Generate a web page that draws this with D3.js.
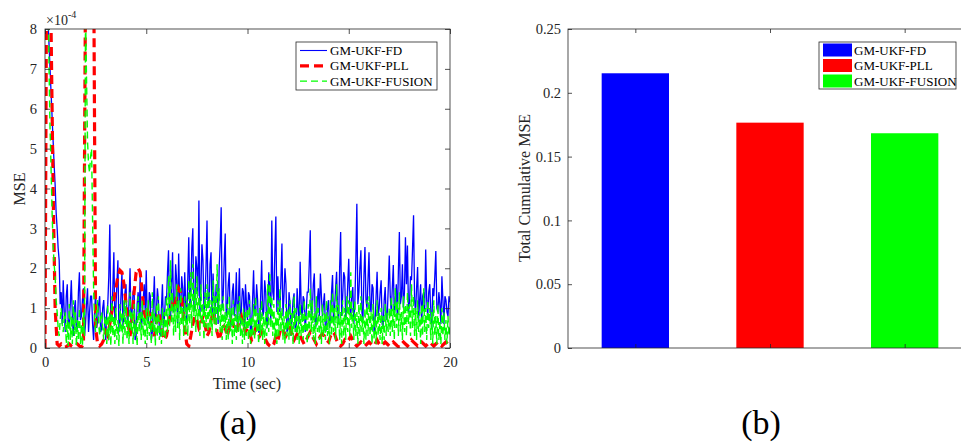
<!DOCTYPE html>
<html lang="en">
<head>
  <meta charset="UTF-8">
  <script src="https://d3js.org/d3.v7.min.js"></script>
  <style>
    body { margin: 0; background: #fff; }
    text { font-family: "Liberation Serif", "Times New Roman", serif; fill: #262626; }
    .axis path { display: none; }
    .axis line { stroke: #262626; stroke-width: 0.8px; }
    .axis text { font-size: 14.5px; }
    .frame { fill: none; stroke: #262626; stroke-width: 0.8px; }
    .legend text { font-size: 13px; fill: #000; }
  </style>
  <title>MSE comparison</title>
</head>
<body>
  <svg id="chart" width="961" height="443"></svg>
  <script>
    // sample steps of the MSE curves (sec); values are in units of 1e-4
    var dtFast = 0.05;   // FD and FUSION
    var dtSlow = 0.1;    // PLL

    var mseFD = [
      10, 11, 9, 8.2, 7.6, 7.0, 6.4, 5.8, 5.2, 4.6, 4.1, 3.4, 3.0, 2.5, 2.2, 1.1, 1.4, 0.6, 1.7, 0.9,
      0.4, 1.3, 1.6, 0.5, 0.6, 1.1, 1.7, 0.8, 0.3, 1.0, 1.2, 0.4, 0.5, 1.4, 1.9, 0.7, 0.8, 1.2, 1.5, 0.3,
      0.6, 1.1, 1.5, 0.4, 0.9, 1.3, 1.3, 0.6, 0.2, 0.9, 1.4, 0.5, 0.7, 1.1, 1.3, 0.4, 0.5, 1.0, 1.2, 0.6,
      0.2, 0.9, 1.1, 1.8, 3.1, 0.7, 0.8, 1.5, 2.4, 0.6, 1.0, 1.6, 2.2, 0.4, 0.6, 1.3, 1.9, 0.5, 0.9, 1.4,
      1.6, 0.8, 0.5, 1.2, 2.0, 0.6, 0.9, 1.4, 1.5, 0.2, 0.3, 1.1, 1.4, 0.8, 1.8, 0.5, 0.7, 1.2, 1.6, 0.9,
      1.95, 0.7, 0.6, 1.4, 1.3, 0.2, 0.4, 1.1, 1.8, 0.6, 0.9, 1.5, 1.2, 0.4, 0.3, 1.0, 1.6, 0.5, 0.8, 1.3,
      1.2, 1.9, 2.45, 0.8, 0.7, 1.6, 2.4, 0.9, 1.0, 2.1, 1.7, 0.6, 2.37, 1.2, 0.9, 1.8, 1.5, 0.7, 1.9, 1.1,
      0.6, 1.7, 2.78, 1.0, 1.4, 2.5, 3.0, 0.9, 1.1, 2.3, 2.0, 1.3, 3.7, 0.8, 1.5, 2.6, 2.2, 0.9, 1.2, 2.0,
      3.2, 1.1, 1.0, 2.1, 2.4, 0.7, 1.87, 1.2, 0.8, 1.6, 1.5, 0.6, 2.0, 2.6, 3.53, 1.0, 1.3, 2.2, 2.87, 0.8,
      1.0, 1.6, 1.9, 0.5, 0.6, 1.4, 1.62, 0.8, 1.1, 1.9, 0.5, 1.2, 2.0, 0.6, 1.0, 1.5, 1.4, 0.4, 1.6, 1.1,
      0.7, 1.4, 1.3, 0.3, 0.5, 1.2, 1.95, 0.9, 0.8, 1.6, 1.2, 0.4, 0.4, 1.3, 2.2, 0.8, 0.9, 1.7, 1.4, 0.5,
      0.6, 1.9, 1.5, 0.7, 3.2, 1.4, 1.2, 2.4, 3.3, 0.9, 1.8, 1.1, 0.9, 1.7, 2.62, 0.8, 1.3, 2.0, 1.6, 0.4,
      0.5, 1.4, 1.1, 0.3, 0.8, 1.2, 1.37, 0.5, 0.4, 1.5, 1.0, 0.6, 2.16, 1.1, 0.7, 1.3, 1.2, 0.4, 0.9, 1.4,
      1.4, 2.1, 2.95, 0.7, 0.9, 1.6, 1.87, 0.5, 0.6, 1.2, 1.5, 0.8, 1.87, 1.3, 0.8, 1.1, 1.37, 0.4, 0.5, 1.0,
      1.2, 0.5, 0.7, 1.4, 1.83, 0.6, 1.0, 1.5, 1.91, 0.9, 0.6, 2.0, 2.91, 0.8, 1.3, 1.9, 1.78, 0.7, 0.9, 1.6,
      2.24, 1.0, 0.8, 1.3, 1.53, 0.6, 1.1, 2.2, 3.62, 1.1, 1.4, 2.0, 2.45, 0.9, 0.7, 1.8, 2.53, 1.2, 1.0, 1.7,
      2.4, 1.1, 0.9, 1.6, 1.5, 0.4, 0.6, 1.3, 1.91, 0.8, 1.0, 1.4, 1.7, 0.6, 0.5, 1.2, 1.53, 0.7, 0.8, 1.5,
      2.32, 1.3, 0.9, 1.5, 2.08, 0.8, 1.2, 1.6, 0.7, 1.9, 2.91, 1.1, 1.3, 2.1, 1.0, 1.4, 2.78, 1.6, 2.57, 0.9,
      1.1, 1.8, 1.7, 2.5, 3.33, 1.2, 0.9, 1.5, 2.03, 0.7, 1.2, 1.6, 0.6, 1.3, 1.4, 0.9, 2.47, 1.2, 0.8, 1.4,
      1.6, 0.9, 0.5, 1.5, 1.3, 1.8, 2.43, 1.0, 0.9, 1.4, 1.1, 0.6, 1.8, 1.2, 0.6, 1.3, 1.2, 0.9, 0.8, 1.3,
      1.15
    ];

    var msePLL = [
      0, 12, 12, 8, 4, 1, 0.1, 0.05, 0.1, 0.05,
      0.02, 0.05, 0.1, 0.05, 0.02, 0.05, 0.1, 0.05, 0.02, 0.1,
      9, 12, 12, 12, 10, 0.5, 0.1, 0.05, 0.1, 0.2,
      0.4, 0.3, 0.6, 0.9, 1.2, 1.5, 1.8, 1.95, 1.9, 1.6,
      1.1, 0.6, 0.3, 0.7, 1.4, 1.9, 2.0, 1.9, 1.4, 0.9,
      0.7, 0.9, 0.8, 0.5, 0.3, 0.6, 0.9, 0.7, 0.4, 0.2,
      0.3, 0.6, 0.9, 1.1, 1.0, 1.3, 1.5, 1.4, 1.0, 0.5,
      0.1, 0.05, 0.3, 0.6, 0.8, 0.7, 0.5, 0.6, 0.8, 0.6,
      0.3, 0.4, 0.7, 0.9, 0.7, 0.4, 0.2, 0.4, 0.6, 0.5,
      0.3, 0.5, 0.7, 0.6, 0.4, 0.5, 0.7, 0.8, 0.6, 0.4,
      0.5, 0.4, 0.2, 0.3, 0.5, 0.4, 0.3, 0.4, 0.3, 0.2,
      0.1, 0.05, 0.02, 0.1, 0.3, 0.2, 0.4, 0.5, 0.4, 0.3,
      0.4, 0.5, 0.3, 0.2, 0.3, 0.4, 0.3, 0.2, 0.1, 0.2,
      0.3, 0.4, 0.3, 0.2, 0.1, 0.2, 0.3, 0.35, 0.3, 0.2,
      0.15, 0.3, 0.4, 0.35, 0.2, 0.1, 0.05, 0.1, 0.2, 0.15,
      0.2, 0.3, 0.2, 0.1, 0.05, 0.1, 0.15, 0.1, 0.05, 0.1,
      0.15, 0.1, 0.05, 0.1, 0.2, 0.1, 0.05, 0.1, 0.15, 0.1,
      0.05, 0.1, 0.15, 0.1, 0.05, 0.02, 0.1, 0.15, 0.1, 0.05,
      0.1, 0.2, 0.15, 0.1, 0.05, 0.1, 0.15, 0.1, 0.05, 0.1,
      0.15, 0.1, 0.05, 0.1, 0.15, 0.1, 0.05, 0.1, 0.15, 0.1,
      0.1
    ];

    var mseFUSION = [
      10, 11, 10, 9, 7, 5.5, 4.5, 3.4, 2.6, 2.1, 1.8, 1.2, 0.9, 0.5, 0.3, 0.7, 1.0, 0.6, 0.4, 0.8,
      0.9, 0.1, 0.7, 0.05, 1.1, 0.2, 0.8, 0.1, 1.2, 0.3, 0.9, 0.05, 0.7, 0.2, 1.0, 0.1, 0.6, 0.05, 0.9, 0.3,
      8.5, 6.8, 5.2, 4.6, 4.4, 4.8, 5.0, 3.2, 1.5, 0.7, 0.4, 0.9, 1.2, 0.6, 0.3, 0.8, 0.9, 0.5, 0.2, 0.7,
      0.8, 0.1, 1.1, 0.2, 0.9, 0.05, 1.3, 0.3, 0.8, 0.1, 1.0, 0.2, 0.7, 0.05, 1.1, 0.4, 0.9, 0.1, 1.2, 0.3,
      1.2, 0.2, 0.8, 0.1, 1.4, 0.4, 0.9, 0.1, 1.1, 0.3, 0.7, 0.05, 1.3, 0.4, 0.9, 0.2, 1.2, 0.3, 0.8, 0.1,
      1.0, 0.2, 1.2, 0.3, 0.8, 0.1, 1.4, 0.4, 0.9, 0.05, 1.1, 0.3, 1.3, 0.2, 0.7, 0.1, 1.0, 0.3, 0.9, 0.2,
      1.3, 0.4, 1.8, 0.5, 2.2, 0.6, 1.4, 0.3, 1.1, 0.4, 1.6, 0.5, 1.2, 0.2, 1.5, 0.6, 1.0, 0.3, 1.3, 0.4,
      1.2, 0.3, 1.7, 0.6, 1.9, 0.5, 2.1, 0.8, 1.5, 0.4, 1.8, 0.7, 1.3, 0.3, 1.6, 0.6, 1.1, 0.2, 1.4, 0.5,
      1.6, 0.4, 1.4, 0.5, 1.2, 0.3, 1.7, 0.6, 1.3, 0.4, 2.1, 0.7, 1.5, 0.4, 1.1, 0.2, 1.3, 0.5, 0.9, 0.2,
      1.1, 0.2, 1.3, 0.4, 1.0, 0.1, 1.2, 0.3, 0.9, 0.2, 1.1, 0.4, 1.3, 0.3, 0.8, 0.1, 1.0, 0.2, 0.9, 0.3,
      1.0, 0.2, 1.2, 0.1, 0.8, 0.3, 1.1, 0.2, 1.3, 0.4, 0.9, 0.1, 1.0, 0.3, 1.2, 0.2, 0.8, 0.1, 0.9, 0.3,
      1.6, 0.4, 1.9, 0.5, 1.3, 0.3, 1.1, 0.2, 0.8, 0.1, 1.2, 0.3, 1.5, 0.4, 1.0, 0.2, 0.8, 0.1, 1.1, 0.3,
      1.0, 0.2, 1.2, 0.3, 0.9, 0.1, 1.3, 0.4, 1.0, 0.2, 0.8, 0.1, 1.1, 0.3, 0.9, 0.2, 1.2, 0.4, 0.8, 0.1,
      1.1, 0.3, 1.5, 0.4, 1.2, 0.2, 0.9, 0.1, 1.3, 0.4, 1.0, 0.2, 0.8, 0.1, 1.1, 0.3, 0.9, 0.2, 1.2, 0.3,
      0.8, 0.1, 1.2, 0.3, 1.4, 0.4, 1.0, 0.2, 1.6, 0.5, 1.1, 0.2, 0.9, 0.1, 1.2, 0.3, 1.0, 0.2, 1.3, 0.4,
      1.2, 0.3, 1.9, 0.5, 1.0, 0.2, 1.2, 0.3, 0.9, 0.1, 1.1, 0.3, 1.3, 0.4, 0.8, 0.1, 1.0, 0.2, 1.2, 0.3,
      1.3, 0.3, 0.9, 0.1, 1.1, 0.2, 0.8, 0.1, 1.2, 0.3, 0.9, 0.2, 1.0, 0.1, 0.8, 0.2, 1.1, 0.3, 0.9, 0.4,
      1.0, 0.3, 1.3, 0.4, 1.1, 0.2, 1.5, 0.5, 1.2, 0.3, 1.4, 0.4, 0.9, 0.2, 1.3, 0.4, 1.1, 0.3, 1.4, 0.6,
      1.1, 0.3, 1.6, 0.5, 1.3, 0.3, 1.0, 0.2, 1.2, 0.4, 0.9, 0.1, 1.1, 0.3, 1.5, 0.4, 1.0, 0.2, 1.2, 0.5,
      1.0, 0.2, 0.9, 0.1, 1.2, 0.3, 0.8, 0.1, 1.1, 0.2, 0.7, 0.1, 1.0, 0.3, 0.9, 0.2, 0.7, 0.1, 0.8, 0.3,
      0.6
    ];

    var methods = ["GM-UKF-FD", "GM-UKF-PLL", "GM-UKF-FUSION"];
    var colors = ["#0000ff", "#ff0000", "#00ff00"];
    var totalMSE = [0.2153, 0.1766, 0.1683];

    var timeTicks = [0, 5, 10, 15, 20];
    var mseTicks = [0, 1, 2, 3, 4, 5, 6, 7, 8];
    var totalTicks = [0, 0.05, 0.1, 0.15, 0.2, 0.25];

    var svg = d3.select("#chart");

    // ---------- (a) MSE over time ----------
    var x = d3.scaleLinear().domain([0, 20]).range([45, 450]);
    var y = d3.scaleLinear().domain([0, 8]).range([348, 29]);

    svg.append("clipPath").attr("id", "clipA")
      .append("rect")
      .attr("x", x(0)).attr("y", y(8))
      .attr("width", x(20) - x(0)).attr("height", y(0) - y(8));

    function lineFor(step) {
      return d3.line()
        .x(function (d, i) { return x(i * step); })
        .y(function (d) { return y(d); });
    }

    var plotA = svg.append("g").attr("clip-path", "url(#clipA)");

    plotA.append("path").datum(mseFD)
      .attr("d", lineFor(dtFast)).attr("fill", "none")
      .attr("stroke", colors[0]).attr("stroke-width", 1.3);

    plotA.append("path").datum(msePLL)
      .attr("d", lineFor(dtSlow)).attr("fill", "none")
      .attr("stroke", colors[1]).attr("stroke-width", 3.2)
      .attr("stroke-dasharray", "9,5");

    plotA.append("path").datum(mseFUSION)
      .attr("d", lineFor(dtFast)).attr("fill", "none")
      .attr("stroke", colors[2]).attr("stroke-width", 1.4)
      .attr("stroke-dasharray", "7,4");

    // axes, ticks pointing inward like matlab
    svg.append("g").attr("class", "axis")
      .attr("transform", "translate(0," + y(0) + ")")
      .call(d3.axisBottom(x).tickValues(timeTicks).tickSizeInner(-5).tickSizeOuter(0).tickPadding(9));
    svg.append("g").attr("class", "axis")
      .attr("transform", "translate(0," + y(8) + ")")
      .call(d3.axisTop(x).tickValues(timeTicks).tickSizeInner(-5).tickSizeOuter(0).tickFormat(""));
    svg.append("g").attr("class", "axis")
      .attr("transform", "translate(" + x(0) + ",0)")
      .call(d3.axisLeft(y).tickValues(mseTicks).tickSizeInner(-5).tickSizeOuter(0).tickPadding(8));
    svg.append("g").attr("class", "axis")
      .attr("transform", "translate(" + x(20) + ",0)")
      .call(d3.axisRight(y).tickValues(mseTicks).tickSizeInner(-5).tickSizeOuter(0).tickFormat(""));

    svg.append("rect").attr("class", "frame")
      .attr("x", x(0)).attr("y", y(8))
      .attr("width", x(20) - x(0)).attr("height", y(0) - y(8));

    var expo = svg.append("text").attr("x", 46).attr("y", 25).style("font-size", "14px");
    expo.append("tspan").text("\u00d710");
    expo.append("tspan").attr("dy", -7).style("font-size", "10px").text("-4");

    svg.append("text").attr("x", 247).attr("y", 389)
      .attr("text-anchor", "middle").style("font-size", "16px").text("Time (sec)");
    svg.append("text").attr("transform", "translate(25,189) rotate(-90)")
      .attr("text-anchor", "middle").style("font-size", "16px").text("MSE");

    // legend (a)
    var legA = svg.append("g").attr("class", "legend");
    legA.append("rect").attr("x", 296).attr("y", 42).attr("width", 141).attr("height", 48)
      .attr("fill", "#fff").attr("stroke", "#262626").attr("stroke-width", 0.8);
    var legStyles = [
      { w: 1.1, dash: null },
      { w: 3.2, dash: "9,5" },
      { w: 1.4, dash: "7,4" }
    ];
    methods.forEach(function (m, i) {
      var cy = 50.5 + i * 15.3;
      legA.append("line").attr("x1", 300).attr("x2", 327).attr("y1", cy).attr("y2", cy)
        .attr("stroke", colors[i]).attr("stroke-width", legStyles[i].w)
        .attr("stroke-dasharray", legStyles[i].dash);
      legA.append("text").attr("x", 330).attr("y", cy + 4.5).text(m);
    });

    // ---------- (b) total cumulative MSE ----------
    var xb = d3.scaleLinear().domain([0.5, 3.5]).range([568, 972]);
    var yb = d3.scaleLinear().domain([0, 0.25]).range([348, 29]);
    var barW = 0.5;

    svg.append("g").selectAll("rect")
      .data(totalMSE)
      .enter().append("rect")
      .attr("x", function (d, i) { return xb(i + 1 - barW / 2); })
      .attr("y", function (d) { return yb(d); })
      .attr("width", xb(1 + barW) - xb(1))
      .attr("height", function (d) { return yb(0) - yb(d); })
      .attr("fill", function (d, i) { return colors[i]; });

    svg.append("g").attr("class", "axis")
      .attr("transform", "translate(0," + yb(0) + ")")
      .call(d3.axisBottom(xb).tickValues([1, 2, 3]).tickSizeInner(-4).tickSizeOuter(0).tickFormat(""));
    svg.append("g").attr("class", "axis")
      .attr("transform", "translate(0," + yb(0.25) + ")")
      .call(d3.axisTop(xb).tickValues([1, 2, 3]).tickSizeInner(-4).tickSizeOuter(0).tickFormat(""));
    svg.append("g").attr("class", "axis")
      .attr("transform", "translate(" + xb(0.5) + ",0)")
      .call(d3.axisLeft(yb).tickValues(totalTicks).tickSizeInner(-4).tickSizeOuter(0).tickPadding(7)
        .tickFormat(function (d) { return d3.format("~g")(d); }));

    svg.append("rect").attr("class", "frame")
      .attr("x", xb(0.5)).attr("y", yb(0.25))
      .attr("width", xb(3.5) - xb(0.5)).attr("height", yb(0) - yb(0.25));

    svg.append("text").attr("transform", "translate(530,188) rotate(-90)")
      .attr("text-anchor", "middle").style("font-size", "16px").text("Total Cumulative MSE");

    // legend (b)
    var legB = svg.append("g").attr("class", "legend");
    legB.append("rect").attr("x", 819).attr("y", 42).attr("width", 137).attr("height", 47)
      .attr("fill", "#fff").attr("stroke", "#262626").attr("stroke-width", 0.8);
    methods.forEach(function (m, i) {
      var cy = 50 + i * 15.5;
      legB.append("rect").attr("x", 823).attr("y", cy - 6.5).attr("width", 29).attr("height", 13)
        .attr("fill", colors[i]);
      legB.append("text").attr("x", 854).attr("y", cy + 4.5).text(m);
    });

    // panel captions
    svg.append("text").attr("x", 238).attr("y", 434)
      .attr("text-anchor", "middle").style("font-size", "34px").style("fill", "#000").text("(a)");
    svg.append("text").attr("x", 761).attr("y", 434)
      .attr("text-anchor", "middle").style("font-size", "34px").style("fill", "#000").text("(b)");
  </script>
</body>
</html>
